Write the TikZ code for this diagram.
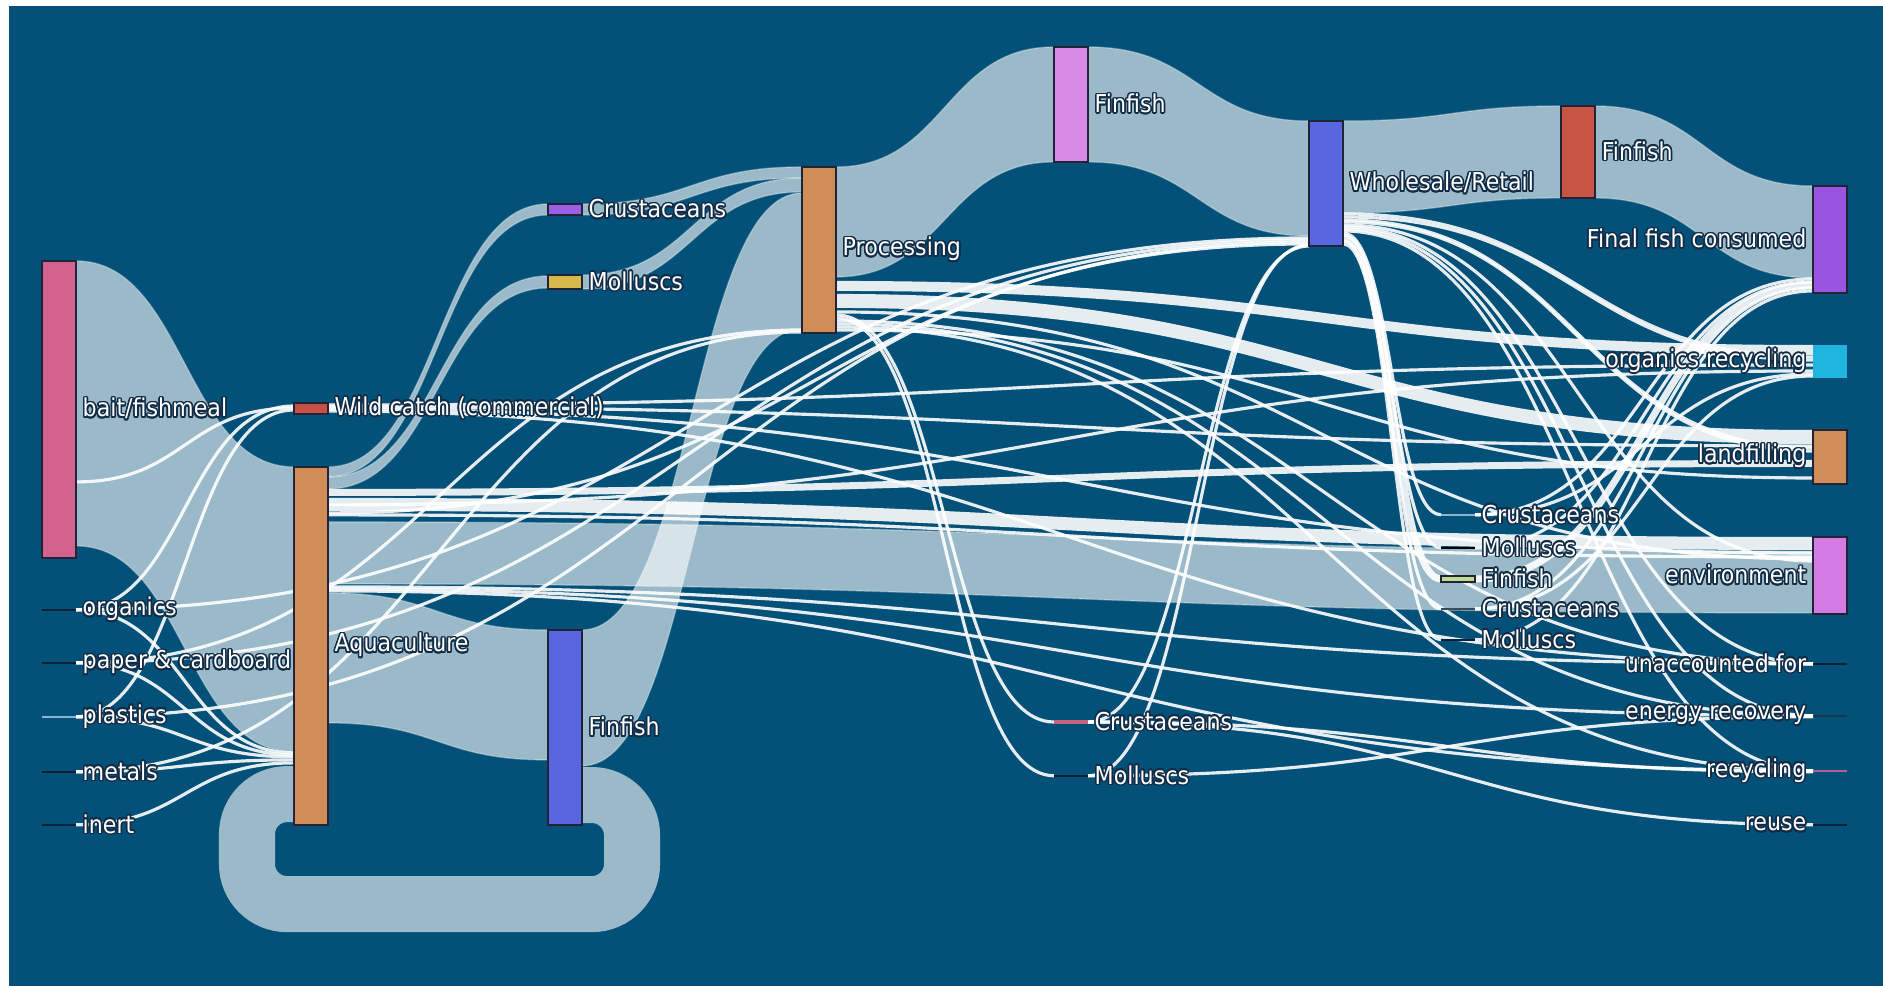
\documentclass[tikz,border=0pt]{standalone}
\usepackage{fontspec}
\usepackage[copies]{contour}
\usetikzlibrary{positioning,calc}
\newfontfamily\lblfont{DejaVu Sans}[FakeStretch=0.9]
\contourlength{0.45pt}

\definecolor{sea}{RGB}{3,80,120}
\definecolor{halo}{RGB}{18,44,70}
\definecolor{cBait}{RGB}{210,99,143}
\definecolor{cWild}{RGB}{197,80,72}
\definecolor{cAqua}{RGB}{208,141,88}
\definecolor{cCrus}{RGB}{154,95,230}
\definecolor{cMoll}{RGB}{214,185,74}
\definecolor{cBlue}{RGB}{88,102,224}
\definecolor{cFinP}{RGB}{217,138,230}
\definecolor{cFinR}{RGB}{200,85,67}
\definecolor{cFinal}{RGB}{154,85,224}
\definecolor{cCyan}{RGB}{31,181,222}
\definecolor{cEnv}{RGB}{212,124,228}
\definecolor{cGreen}{RGB}{190,220,140}
\definecolor{cDark}{RGB}{12,32,58}
\definecolor{cStubLt}{RGB}{140,180,210}
\definecolor{cGrey}{RGB}{60,75,90}
\definecolor{cTeal}{RGB}{20,60,80}
\definecolor{cRecyc}{RGB}{170,100,150}
\definecolor{cCrus4}{RGB}{200,100,120}
\definecolor{edge}{RGB}{35,35,55}

\pgfdeclarelayer{links}
\pgfsetlayers{links,main}

% band between two nodes: src, top/bottom offset, tgt, top/bottom offset (px from node top)
\newcommand{\band}[7][band]{%
  \path (#2.north east) ++(0,#3) coordinate (s1) (#2.north east) ++(0,#4) coordinate (s2)
        (#5.north west) ++(0,#6) coordinate (t1) (#5.north west) ++(0,#7) coordinate (t2)
        ($(s1)!0.5!(t1)$) coordinate (m);
  \fill[#1] (s1) .. controls (s1 -| m) and (t1 -| m) .. (t1) -- (t2)
        .. controls (t2 -| m) and (s2 -| m) .. (s2) -- cycle;}
% thin link
\newcommand{\wire}[5][wire]{%
  \path (#2.north east) ++(0,#3) coordinate (s1) (#4.north west) ++(0,#5) coordinate (t1)
        ($(s1)!0.5!(t1)$) coordinate (m);
  \draw[#1] (s1) .. controls (s1 -| m) and (t1 -| m) .. (t1);}

\begin{document}
\begin{tikzpicture}[x=0.01cm, y=-0.01cm,
    bar/.style = {draw=edge, line width=0.4pt, inner sep=0pt, outer sep=0pt, minimum width=0.34cm},
    stub/.style = {inner sep=0pt, outer sep=0pt, minimum width=0.34cm, minimum height=0.025cm},
    lbl/.style = {text=white, inner sep=0pt, font=\lblfont\fontsize{7}{8}\selectfont},
    band/.style = {fill=white, fill opacity=0.6, draw=white, draw opacity=0.3, line width=0.4pt},
    wband/.style = {fill=white, fill opacity=0.9},
    wire/.style = {draw=white, line width=0.9pt, opacity=0.9},
    loopband/.style = {draw=white, draw opacity=0.6, line width=0.56cm, rounded corners=0.4cm}]
    \useasboundingbox (0,0) rectangle (1883,986);

    % nodes
    \node[bar, fill=cBait, minimum height=2.97cm] (bait) at (59,409.5) {};
    \node[stub, fill=cDark] (organ) at (59,610) {};
    \node[stub, fill=cDark] (paper) at (59,663) {};
    \node[stub, fill=cStubLt] (plast) at (59,717) {};
    \node[stub, fill=cDark] (metal) at (59,772) {};
    \node[stub, fill=cDark] (inert) at (59,825) {};
    \node[bar, fill=cWild, minimum height=0.11cm] (wild) at (311,408.5) {};
    \node[bar, fill=cAqua, minimum height=3.58cm] (aqua) at (311,646) {};
    \node[bar, fill=cCrus, minimum height=0.11cm] (crus2) at (565,209.5) {};
    \node[bar, fill=cMoll, minimum height=0.14cm] (moll2) at (565,282) {};
    \node[bar, fill=cBlue, minimum height=1.95cm] (fin2) at (565,727.5) {};
    \node[bar, fill=cAqua, minimum height=1.66cm] (proc) at (819,250) {};
    \node[bar, fill=cFinP, minimum height=1.15cm] (fin3) at (1071,104.5) {};
    \node[stub, fill=cCrus4, minimum height=0.04cm] (crus4) at (1071,722) {};
    \node[stub, fill=cDark] (moll4) at (1071,776) {};
    \node[bar, fill=cBlue, minimum height=1.25cm] (whole) at (1326,183.5) {};
    \node[stub, fill=cStubLt] (crus5a) at (1458,515) {};
    \node[stub, fill=black] (moll5a) at (1458,548) {};
    \node[bar, fill=cGreen, minimum height=0.06cm] (fin5g) at (1458,579) {};
    \node[stub, fill=cGrey] (crus5b) at (1458,609) {};
    \node[stub, fill=cDark] (moll5b) at (1458,640) {};
    \node[bar, fill=cFinR, minimum height=0.92cm] (fin5) at (1578,152) {};
    \node[bar, fill=cFinal, minimum height=1.07cm] (final) at (1830,239.5) {};
    \node[bar, fill=cCyan, draw=none, minimum height=0.33cm] (orgrec) at (1830,361.5) {};
    \node[bar, fill=cAqua, minimum height=0.54cm] (landf) at (1830,457) {};
    \node[bar, fill=cEnv, minimum height=0.77cm] (env) at (1830,575.5) {};
    \node[stub, fill=cDark] (unacc) at (1830,664) {};
    \node[stub, fill=cTeal] (energy) at (1830,716) {};
    \node[stub, fill=cRecyc] (recyc) at (1830,771) {};
    \node[stub, fill=cDark] (reuse) at (1830,825) {};

    \begin{pgfonlayer}{links}
    \fill[white] (0,0) rectangle (1883,986);
    \fill[sea] (9,6) rectangle (1883,986);

    % wide flows
    \band{bait}{0}{285}{aqua}{0}{285}
    \band{aqua}{0}{10}{crus2}{0}{11}
    \band{aqua}{10}{22}{moll2}{1}{13}
    \band{crus2}{0}{11}{proc}{0}{11}
    \band{moll2}{0}{14}{proc}{11}{25}
    \band{aqua}{55}{117}{env}{14}{76}
    \band{aqua}{126}{256}{fin2}{0}{130}
    \band{fin2}{0}{136}{proc}{26}{162}
    \band{proc}{0}{110}{fin3}{0}{115}
    \band{fin3}{0}{115}{whole}{0}{115}
    \band{whole}{0}{92}{fin5}{0}{92}
    \band{fin5}{0}{92}{final}{0}{92}
    \draw[loopband] ($(fin2.south east)+(0,-30)$) coordinate (l1) -- ++(50,0)
        |- ($(aqua.south west)+(-47,79)$) |- ($(aqua.south west)+(0,-31)$) coordinate (l2);

    % bundles
    \band[wband]{proc}{114}{124}{orgrec}{0}{10}
    \band[wband]{proc}{127}{141}{landf}{0}{14}
    \band[wband]{aqua}{22}{29}{landf}{30}{37}
    \band[wband]{aqua}{31}{44}{env}{0}{13}

    % thin links
    \wire{organ}{1}{aqua}{286}
    \wire{paper}{1}{aqua}{288}
    \wire{plast}{1}{aqua}{290}
    \wire{metal}{1}{aqua}{293}
    \wire{inert}{1}{aqua}{296}
    \wire{organ}{1}{wild}{3}
    \wire{plast}{1}{wild}{7}
    \wire{bait}{221}{wild}{5}
    \wire{organ}{1}{whole}{117}
    \wire{paper}{1}{whole}{119}
    \wire{plast}{1}{whole}{121}
    \wire{paper}{1}{proc}{163}
    \wire{metal}{1}{proc}{165}
    \wire{wild}{2}{orgrec}{20}
    \wire{wild}{4}{landf}{16}
    \wire{wild}{6}{env}{16}
    \wire{wild}{8}{unacc}{1}
    \wire{aqua}{38}{orgrec}{26}
    \wire{aqua}{46}{whole}{123}
    \wire{aqua}{48}{env}{20}
    \wire{aqua}{120}{unacc}{1}
    \wire{aqua}{122}{energy}{1}
    \wire{aqua}{124}{recyc}{1}
    \wire{proc}{145}{env}{22}
    \wire{proc}{148}{crus4}{2}
    \wire{proc}{151}{moll4}{1}
    \wire{proc}{154}{unacc}{1}
    \wire{proc}{157}{energy}{1}
    \wire{proc}{160}{recyc}{1}
    \wire{proc}{163}{landf}{48}
    \wire{whole}{93}{orgrec}{12}
    \wire{whole}{96}{orgrec}{15}
    \wire{whole}{99}{landf}{18}
    \wire{whole}{101}{landf}{21}
    \wire{whole}{104}{env}{24}
    \wire{whole}{106}{unacc}{1}
    \wire{whole}{108}{energy}{1}
    \wire{whole}{110}{recyc}{1}
    \wire{whole}{112}{crus5a}{1}
    \wire{whole}{114}{moll5a}{1}
    \wire[wire, line width=2pt]{whole}{117}{fin5g}{3}
    \wire{whole}{120}{crus5b}{1}
    \wire{whole}{123}{moll5b}{1}
    \wire{crus5a}{1}{final}{93}
    \wire{moll5a}{1}{final}{96}
    \wire[wire, line width=2pt]{fin5g}{3}{final}{99}
    \wire{crus5b}{1}{final}{102}
    \wire{moll5b}{1}{final}{105}
    \wire{crus5a}{1}{orgrec}{29}
    \wire{crus5b}{1}{orgrec}{31}
    \wire{crus4}{2}{whole}{125}
    \wire{moll4}{1}{whole}{124}
    \wire{crus4}{2}{reuse}{1}
    \wire{crus4}{2}{recyc}{2}
    \wire{moll4}{1}{energy}{2}
    \end{pgfonlayer}

    % labels
    \node[lbl, right=0.06cm of bait] {\contour{halo}{bait/fishmeal}};
    \node[lbl, right=0.06cm of organ] {\contour{halo}{organics}};
    \node[lbl, right=0.06cm of paper] {\contour{halo}{paper \& cardboard}};
    \node[lbl, right=0.06cm of plast] {\contour{halo}{plastics}};
    \node[lbl, right=0.06cm of metal] {\contour{halo}{metals}};
    \node[lbl, right=0.06cm of inert] {\contour{halo}{inert}};
    \node[lbl, right=0.06cm of wild] {\contour{halo}{Wild catch (commercial)}};
    \node[lbl, right=0.06cm of aqua] {\contour{halo}{Aquaculture}};
    \node[lbl, right=0.06cm of crus2] {\contour{halo}{Crustaceans}};
    \node[lbl, right=0.06cm of moll2] {\contour{halo}{Molluscs}};
    \node[lbl, right=0.06cm of fin2] {\contour{halo}{Finfish}};
    \node[lbl, right=0.06cm of proc] {\contour{halo}{Processing}};
    \node[lbl, right=0.06cm of fin3] {\contour{halo}{Finfish}};
    \node[lbl, right=0.06cm of crus4] {\contour{halo}{Crustaceans}};
    \node[lbl, right=0.06cm of moll4] {\contour{halo}{Molluscs}};
    \node[lbl, right=0.06cm of whole] {\contour{halo}{Wholesale/Retail}};
    \node[lbl, right=0.06cm of crus5a] {\contour{halo}{Crustaceans}};
    \node[lbl, right=0.06cm of moll5a] {\contour{halo}{Molluscs}};
    \node[lbl, right=0.06cm of fin5g] {\contour{halo}{Finfish}};
    \node[lbl, right=0.06cm of crus5b] {\contour{halo}{Crustaceans}};
    \node[lbl, right=0.06cm of moll5b] {\contour{halo}{Molluscs}};
    \node[lbl, right=0.06cm of fin5] {\contour{halo}{Finfish}};
    \node[lbl, left=0.06cm of final] {\contour{halo}{Final fish consumed}};
    \node[lbl, left=0.06cm of orgrec] {\contour{halo}{organics recycling}};
    \node[lbl, left=0.06cm of landf] {\contour{halo}{landfilling}};
    \node[lbl, left=0.06cm of env] {\contour{halo}{environment}};
    \node[lbl, left=0.06cm of unacc] {\contour{halo}{unaccounted for}};
    \node[lbl, left=0.06cm of energy] {\contour{halo}{energy recovery}};
    \node[lbl, left=0.06cm of recyc] {\contour{halo}{recycling}};
    \node[lbl, left=0.06cm of reuse] {\contour{halo}{reuse}};
\end{tikzpicture}
\end{document}
